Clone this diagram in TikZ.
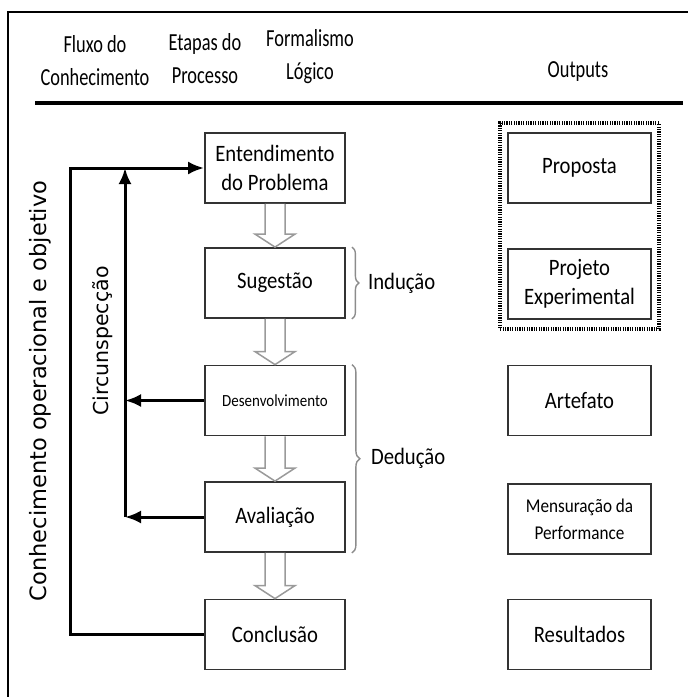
\documentclass[tikz,border=0pt]{standalone}
\usepackage{fontspec}
\setmainfont{Carlito}[FakeStretch=0.88]
\newfontfamily\vertfont{DejaVu Sans}
\newfontfamily\headfont{Carlito}[FakeStretch=0.75]
\usetikzlibrary{arrows.meta,calc,fit,decorations.pathreplacing}

\definecolor{boxline}{HTML}{333333}
\definecolor{hollowgray}{HTML}{9A9A9A}
\definecolor{bracegray}{HTML}{8C8C8C}

\tikzset{
  header/.style={align=center, font=\headfont\fontsize{24.5}{33}\selectfont, inner sep=0pt},
  procbox/.style={draw=boxline, line width=1.8pt, minimum width=140pt, minimum height=70pt,
    align=center, inner sep=2pt, font=\fontsize{23.5}{29.5}\selectfont},
  outbox/.style={procbox, minimum width=143pt},
  groupbox/.style={draw=black, line width=3.5pt, dash pattern=on 1.2pt off 1.2pt,
    inner xsep=7pt, inner ysep=9pt},
  conn/.style={draw=black, line width=3pt},
  tipped/.style={conn, -{Latex[length=16pt,width=13pt]}},
  hollow/.style={draw=hollowgray, line width=1.5pt, fill=white, line join=miter},
  bracedeco/.style={draw=bracegray, line width=1.4pt, decorate,
    decoration={brace, amplitude=7pt}},
  bracelabel/.style={anchor=west, inner sep=0pt, font=\fontsize{23.5}{26}\selectfont},
  sidelabel/.style={rotate=90, inner sep=0pt, font=\vertfont\fontsize{22.5}{26}\selectfont}
}

\begin{document}
\begin{tikzpicture}[x=1pt, y=-1pt]
\useasboundingbox (0,0) rectangle (688,697);

% frame and heading rule
\draw[line width=2pt] (8,697) -- (8,12) -- (688,12);
\draw[line width=4pt] (35,103) -- (683,103);

% column headings
\node[header] (hflux) at (95,61) {Fluxo do\\Conhecimento};
\node[header] (hetap) at (205,59) {Etapas do\\Processo};
\node[header] (hform) at (310,57) {Formalismo\\Lógico};
\node[header] (hout)  at (578,72) {Outputs};

% process steps
\node[procbox] (ent)  at (275,168)   {Entendimento\\do Problema};
\node[procbox] (sug)  at (275,283)   {Sugestão};
\node[procbox, font=\fontsize{17}{20}\selectfont] (des) at (275,400.5) {Desenvolvimento};
\node[procbox] (ava)  at (275,517)   {Avaliação};
\node[procbox] (conc) at (275,634.5) {Conclusão};

% outputs
\node[outbox] (prop) at (579.5,168) {Proposta};
\node[outbox] (proj) at (579.5,284) {Projeto\\Experimental};
\node[outbox] (art)  at (579.5,400.5) {Artefato};
\node[outbox, font=\fontsize{19.5}{27}\selectfont] (mens) at (579.5,519) {Mensuração da\\Performance};
\node[outbox] (res)  at (579.5,634.5) {Resultados};
\node[groupbox, fit=(prop)(proj)] (grp) {};

% hollow arrows between steps
\foreach \a/\b in {ent/sug, sug/des, des/ava, ava/conc}{
  \draw[hollow] ($(\a.south)+(-10,0)$) -- ($(\b.north)+(-10,-13)$) -- ($(\b.north)+(-20,-13)$)
    -- (\b.north) -- ($(\b.north)+(20,-13)$) -- ($(\b.north)+(10,-13)$) -- ($(\a.south)+(10,0)$);
}

% feedback loops
\coordinate (outerTop) at (70,168);
\coordinate (circTop) at (125,168);
\coordinate (circBot) at (125,517);
\draw[tipped] (conc.west) -| (outerTop) -- (ent.west);
\draw[tipped] (circBot) -- (circTop);
\draw[tipped] (des.west) -- (des.west -| circTop);
\draw[tipped] (ava.west) -- (circBot);

\node[sidelabel] (know) at (40,391) {Conhecimento operacional e objetivo};
\node[sidelabel, font=\vertfont\fontsize{20.5}{24}\selectfont] (circ) at (103,341) {Circunspecção};

% logical formalism braces
\draw[bracedeco] ($(sug.north east)+(6,0)$) -- ($(sug.south east)+(6,0)$)
  coordinate[pos=0.5] (indmid);
\node[bracelabel] (ind) at ($(indmid)+(16,0)$) {Indução};
\draw[bracedeco, decoration={brace, amplitude=8pt}] ($(des.north east)+(6,0)$) -- ($(ava.south east)+(6,0)$)
  coordinate[pos=0.5] (dedmid);
\node[bracelabel] (ded) at ($(dedmid)+(19,0)$) {Dedução};
\end{tikzpicture}
\end{document}
